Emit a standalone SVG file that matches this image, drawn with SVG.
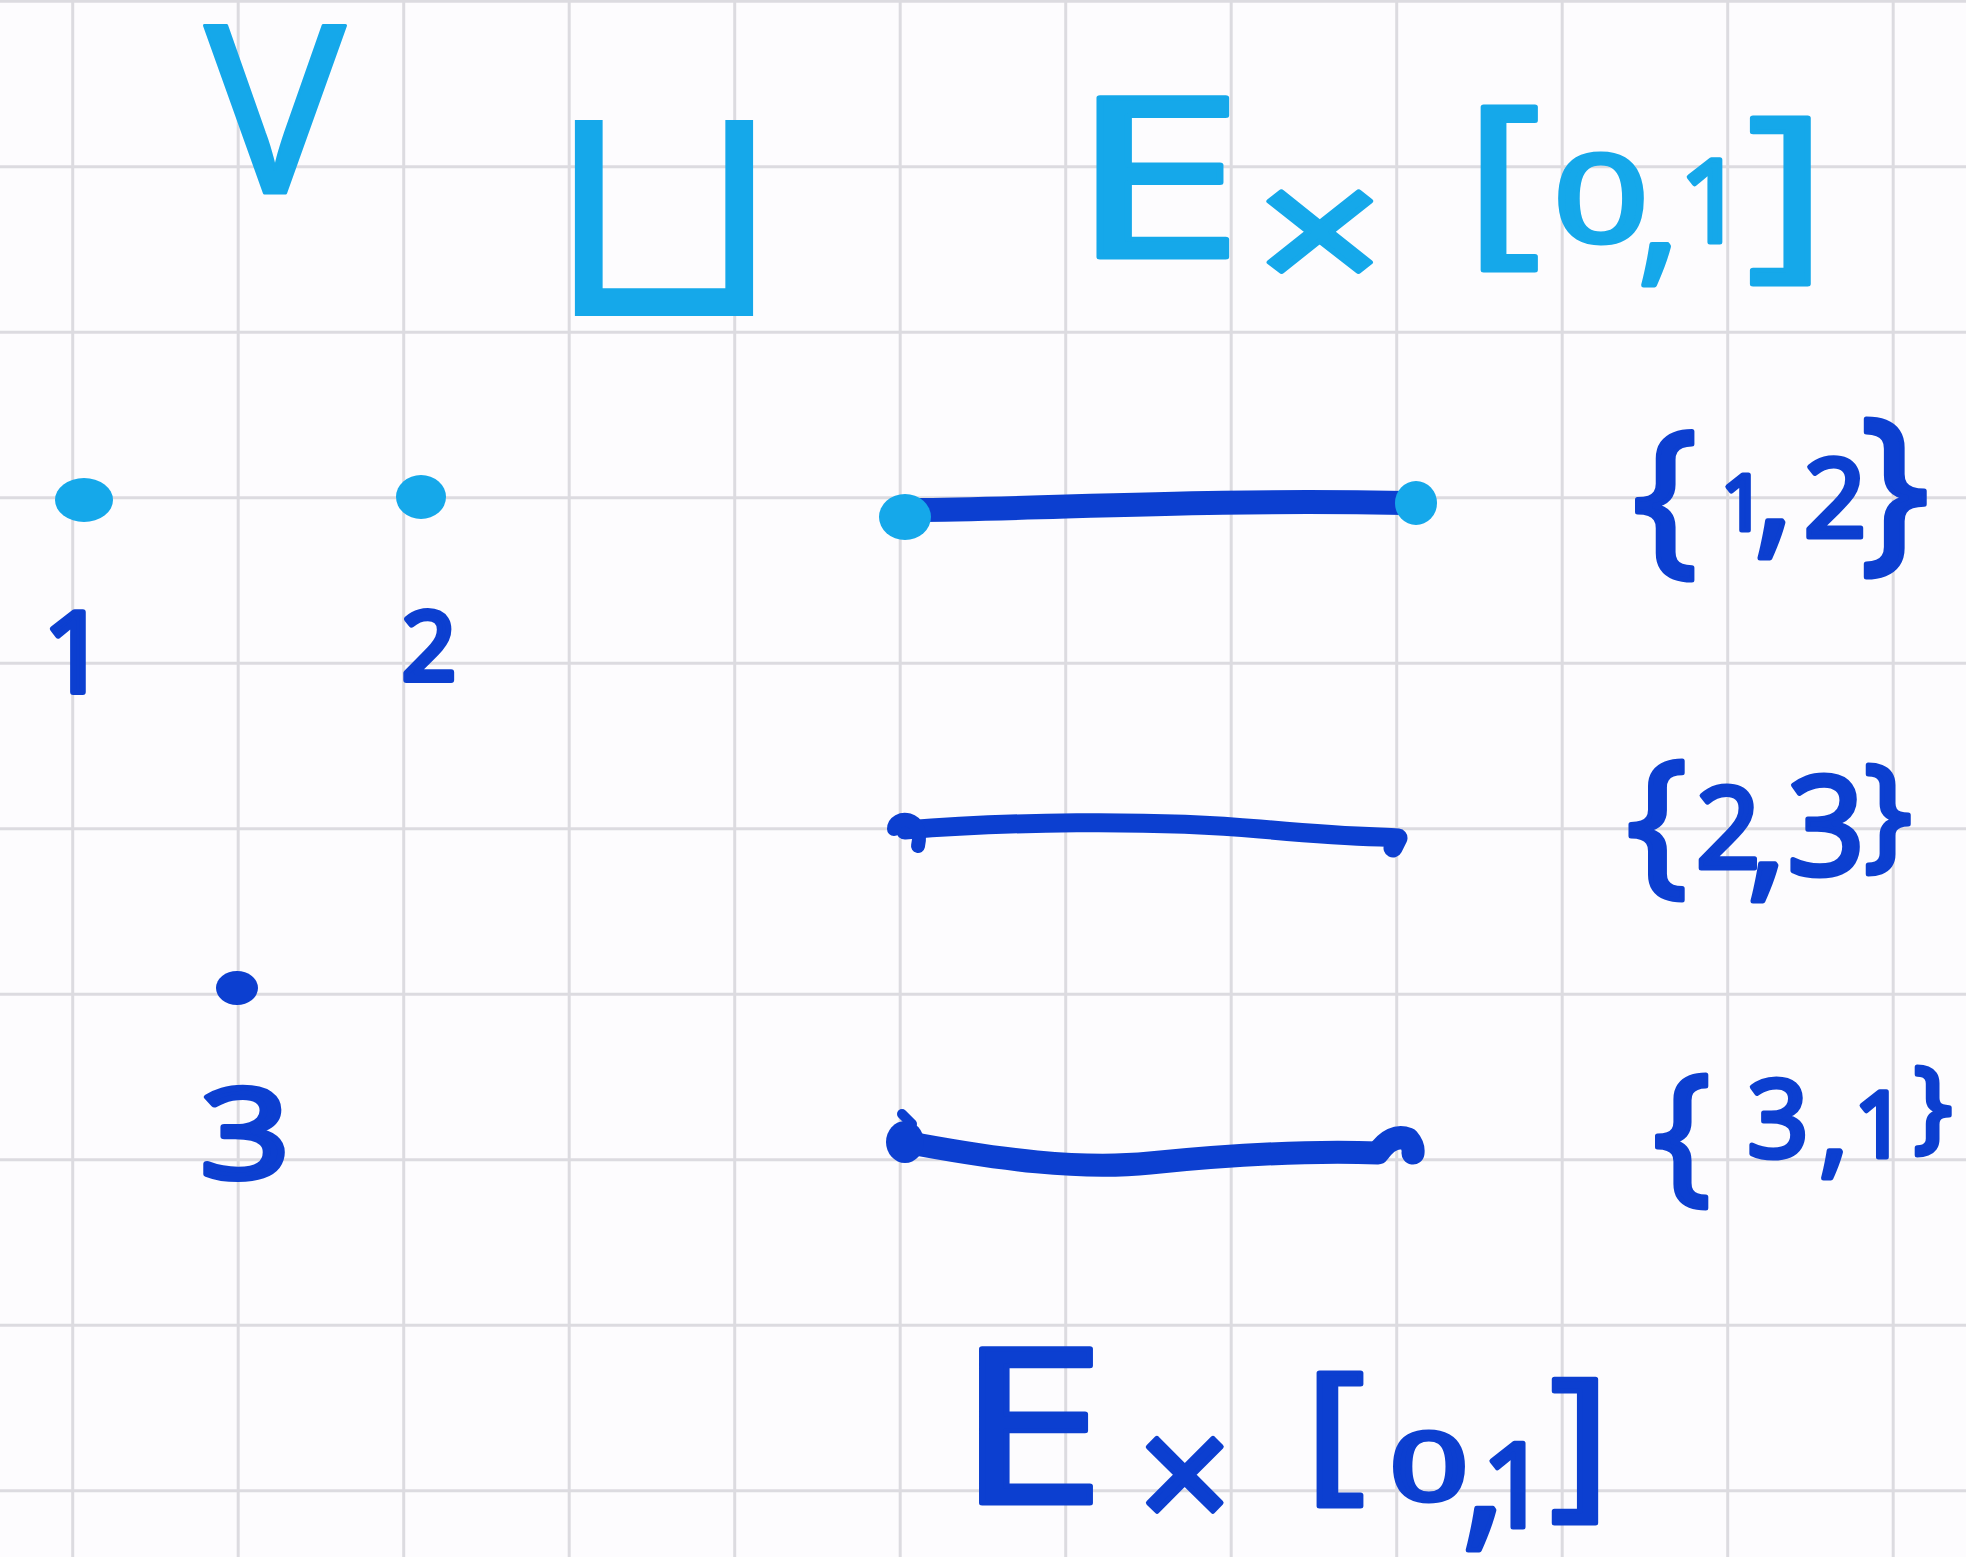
<svg xmlns="http://www.w3.org/2000/svg" width="1966" height="1557" viewBox="0 0 1966 1557">
<style>
.grid line{stroke:#dcdbe0;stroke-width:3}
.cy{fill:#15a8ea;stroke:#15a8ea}
.db{fill:#0c3fd0;stroke:#0c3fd0}
.seg{fill:none;stroke:#0c3fd0;stroke-linecap:round;stroke-linejoin:round}
.dcy{fill:#15a8ea}
.ddb{fill:#0c3fd0}
</style>
<rect width="1966" height="1557" fill="#fdfcfe"/>
<g id="grid" class="grid">
<line x1="72.7" y1="0" x2="72.7" y2="1557"/>
<line x1="238.2" y1="0" x2="238.2" y2="1557"/>
<line x1="403.7" y1="0" x2="403.7" y2="1557"/>
<line x1="569.2" y1="0" x2="569.2" y2="1557"/>
<line x1="734.7" y1="0" x2="734.7" y2="1557"/>
<line x1="900.2" y1="0" x2="900.2" y2="1557"/>
<line x1="1065.7" y1="0" x2="1065.7" y2="1557"/>
<line x1="1231.2" y1="0" x2="1231.2" y2="1557"/>
<line x1="1396.7" y1="0" x2="1396.7" y2="1557"/>
<line x1="1562.2" y1="0" x2="1562.2" y2="1557"/>
<line x1="1727.7" y1="0" x2="1727.7" y2="1557"/>
<line x1="1893.2" y1="0" x2="1893.2" y2="1557"/>
<line x1="0" y1="1.3" x2="1966" y2="1.3"/>
<line x1="0" y1="166.8" x2="1966" y2="166.8"/>
<line x1="0" y1="332.3" x2="1966" y2="332.3"/>
<line x1="0" y1="497.8" x2="1966" y2="497.8"/>
<line x1="0" y1="663.3" x2="1966" y2="663.3"/>
<line x1="0" y1="828.8" x2="1966" y2="828.8"/>
<line x1="0" y1="994.3" x2="1966" y2="994.3"/>
<line x1="0" y1="1159.8" x2="1966" y2="1159.8"/>
<line x1="0" y1="1325.3" x2="1966" y2="1325.3"/>
<line x1="0" y1="1490.8" x2="1966" y2="1490.8"/>
</g>
<g id="title-V"><text class="cy" font-family="'Noto Sans', sans-serif" text-anchor="middle" style="stroke-width:3;stroke-linejoin:round" x="275" y="193" font-size="235">V</text></g>
<g id="title-union"><text class="cy" font-family="'DejaVu Sans', sans-serif" text-anchor="middle" style="stroke-width:2" x="664" y="315" font-size="310">⊔</text></g>
<g id="title-ExI"><text class="cy" font-family="'Noto Sans', sans-serif" text-anchor="middle" style="stroke-width:5;stroke-linejoin:round"><tspan x="1157" y="257" font-size="223" textLength="175" lengthAdjust="spacingAndGlyphs">E</tspan><tspan x="1320" y="295" font-size="180" textLength="130" lengthAdjust="spacingAndGlyphs">×</tspan><tspan x="1503" y="240" font-size="186" textLength="75" lengthAdjust="spacingAndGlyphs">[</tspan><tspan x="1601" y="242" font-size="120" textLength="95" lengthAdjust="spacingAndGlyphs">0</tspan><tspan x="1659" y="264" font-size="164">,</tspan><tspan x="1712" y="242" font-size="115">1</tspan><tspan x="1787" y="254" font-size="191" textLength="80" lengthAdjust="spacingAndGlyphs">]</tspan></text></g>
<g id="vertex-1"><ellipse class="dcy" cx="84" cy="500" rx="29" ry="22"/><text class="db" font-family="'Noto Sans', sans-serif" text-anchor="middle" style="stroke-width:6;stroke-linejoin:round" x="75" y="692" font-size="112">1</text></g>
<g id="vertex-2"><ellipse class="dcy" cx="421" cy="497" rx="25" ry="22"/><text class="db" font-family="'Noto Sans', sans-serif" text-anchor="middle" style="stroke-width:6;stroke-linejoin:round" x="429" y="680" font-size="95">2</text></g>
<g id="vertex-3"><ellipse class="ddb" cx="237" cy="988" rx="21" ry="17"/><text class="db" font-family="'Noto Sans', sans-serif" text-anchor="middle" style="stroke-width:6;stroke-linejoin:round" x="245" y="1178" font-size="124" textLength="90" lengthAdjust="spacingAndGlyphs">3</text></g>
<g id="connectors">
<path class="seg" stroke-width="24" d="M912,510 C1050,509 1200,499 1405,503"/>
<path class="seg" stroke-width="19" d="M905,830 C1000,822 1150,819 1260,829 S1380,836 1398,838 L1393,848"/>
<path class="seg" stroke-width="14" d="M894,829 C894,815 925,814 918,846"/>
<path class="seg" stroke-width="23" d="M905,1142 C1000,1160 1080,1170 1150,1163 S1300,1150 1378,1153 Q1392,1133 1408,1139 Q1414,1146 1413,1153"/>
<path class="seg" stroke-width="10" d="M902,1114 L912,1124"/>
</g>
<g id="edge-ends">
<ellipse class="dcy" cx="905" cy="517" rx="26" ry="23"/>
<ellipse class="dcy" cx="1416" cy="503" rx="21" ry="22"/>
<ellipse class="ddb" cx="905" cy="1142" rx="19" ry="21"/>
</g>
<g id="edge-label-12"><text class="db" font-family="'Noto Sans', sans-serif" text-anchor="middle" style="stroke-width:5;stroke-linejoin:round"><tspan x="1665" y="553" font-size="170">{</tspan><tspan x="1743" y="530" font-size="77">1</tspan><tspan x="1774" y="538" font-size="152">,</tspan><tspan x="1835" y="537" font-size="110">2</tspan><tspan x="1895" y="548" font-size="181">}</tspan></text></g>
<g id="edge-label-23"><text class="db" font-family="'Noto Sans', sans-serif" text-anchor="middle" style="stroke-width:5;stroke-linejoin:round"><tspan x="1657" y="875" font-size="160">{</tspan><tspan x="1728" y="868" font-size="113">2</tspan><tspan x="1767" y="881" font-size="152">,</tspan><tspan x="1826" y="875" font-size="137">3</tspan><tspan x="1888" y="854" font-size="125">}</tspan></text></g>
<g id="edge-label-31"><text class="db" font-family="'Noto Sans', sans-serif" text-anchor="middle" style="stroke-width:5;stroke-linejoin:round"><tspan x="1682" y="1184" font-size="151">{</tspan><tspan x="1778" y="1157" font-size="108">3</tspan><tspan x="1834" y="1164" font-size="112">,</tspan><tspan x="1880" y="1157" font-size="91">1</tspan><tspan x="1933" y="1139" font-size="100">}</tspan></text></g>
<g id="bottom-ExI"><text class="db" font-family="'Noto Sans', sans-serif" text-anchor="middle" style="stroke-width:5;stroke-linejoin:round"><tspan x="1031" y="1503" font-size="216" textLength="150" lengthAdjust="spacingAndGlyphs">E</tspan><tspan x="1185" y="1533" font-size="165">×</tspan><tspan x="1335" y="1482" font-size="152" textLength="60" lengthAdjust="spacingAndGlyphs">[</tspan><tspan x="1429" y="1500" font-size="93" textLength="78" lengthAdjust="spacingAndGlyphs">0</tspan><tspan x="1484" y="1528" font-size="170">,</tspan><tspan x="1515" y="1527" font-size="117">1</tspan><tspan x="1580" y="1497" font-size="164" textLength="60" lengthAdjust="spacingAndGlyphs">]</tspan></text></g>
</svg>
